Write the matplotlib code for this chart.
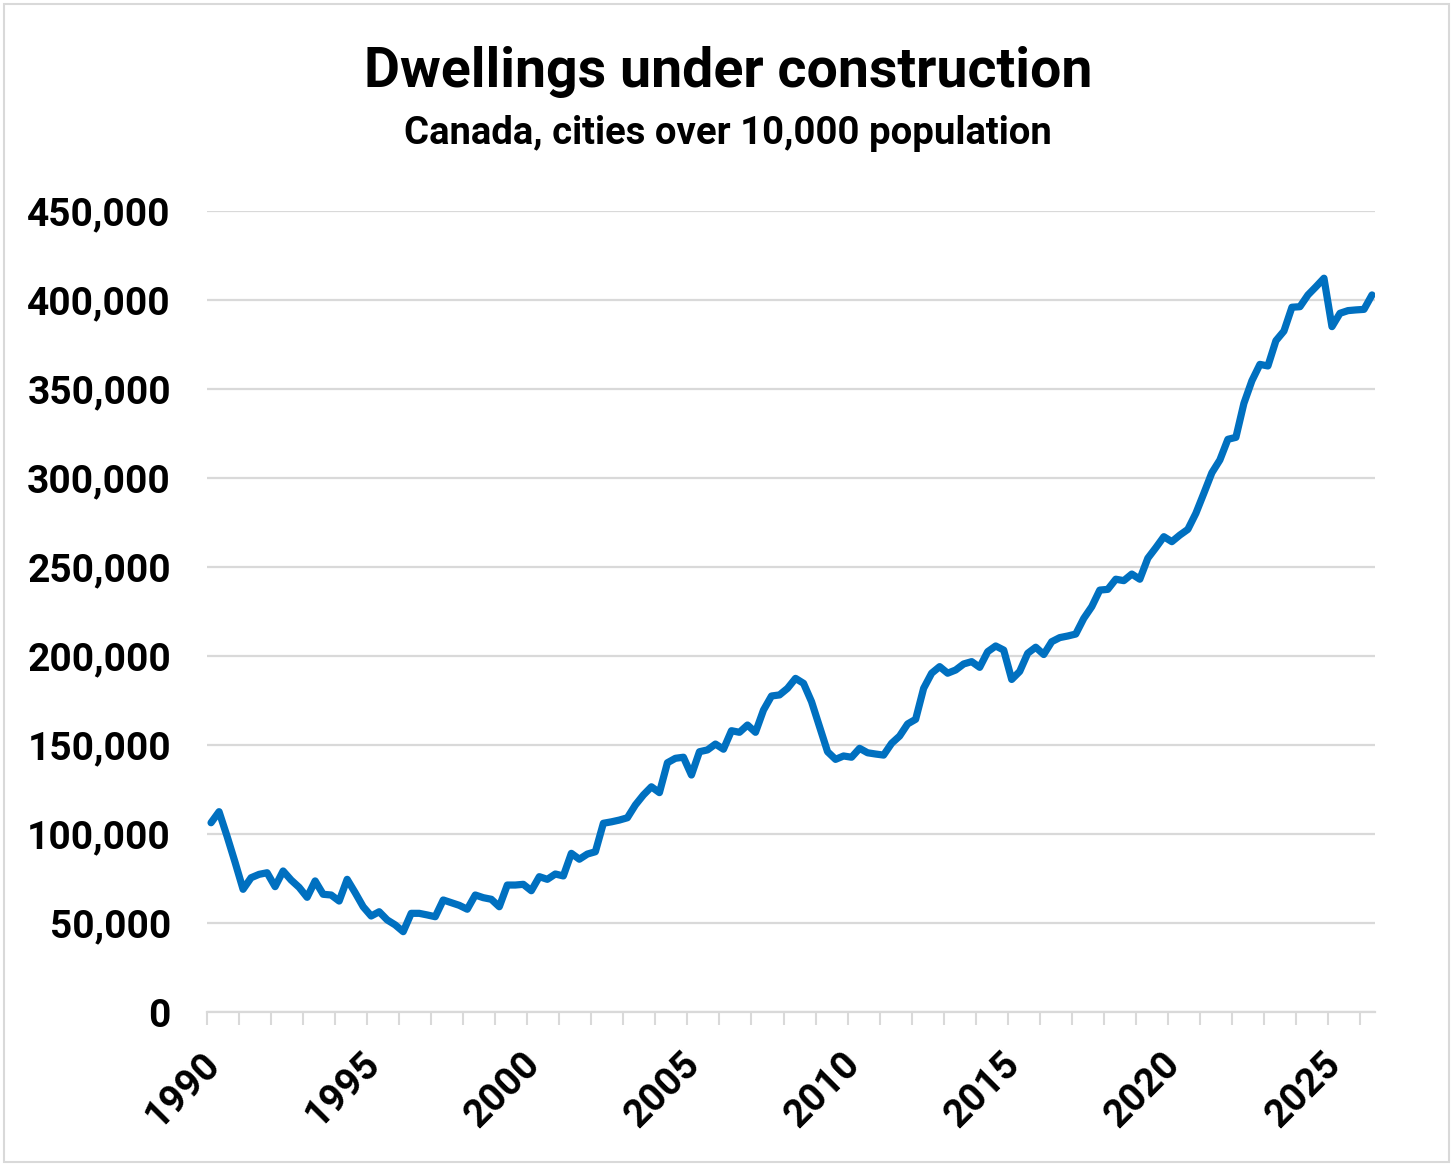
import matplotlib
matplotlib.use("Agg")
import matplotlib.pyplot as plt
from matplotlib.patches import Rectangle
from matplotlib.transforms import ScaledTranslation
from matplotlib.ticker import FuncFormatter

# ---- data (quarterly, 1990 Q1 onward) ----
start_year = 1990
dwellings = [
    106500, 112700, 98900, 84300, 69100, 75600, 77500, 78400, 70600, 79400,
    74300, 70200, 64600, 73800, 66300, 65900, 62500, 74700, 67200, 59300,
    54100, 56500, 51900, 49100, 45300, 55600, 55600, 54700, 53700, 63100,
    61600, 60100, 57900, 65900, 64400, 63500, 59300, 71500, 71500, 71900,
    68300, 76200, 74700, 77700, 76600, 89300, 86000, 88900, 90200, 106200,
    107000, 108000, 109300, 116500, 122100, 126700, 123400, 140200, 142700, 143300,
    133300, 146400, 147400, 150700, 147800, 158200, 157300, 161400, 157300, 169800,
    177700, 178300, 182000, 187600, 184800, 174500, 160500, 146400, 142100, 144000,
    143300, 148300, 145800, 145100, 144500, 151100, 155200, 162000, 164600, 182000,
    190500, 194200, 190500, 192300, 195700, 197000, 193800, 202600, 205800, 203500,
    187000, 191500, 201700, 205100, 201000, 208200, 210500, 211400, 212500, 221300,
    227900, 237200, 237600, 243300, 242500, 246200, 243300, 255100, 261000, 267200,
    264400, 268100, 271300, 280300, 291600, 303100, 310300, 321900, 323000, 342100,
    354800, 364000, 363100, 377300, 382700, 396100, 396400, 403000, 407600, 412400,
    385200, 392700, 394200, 394600, 394900, 403000,
]
year_labels = ["1990", "1995", "2000", "2005", "2010", "2015", "2020", "2025"]
y_ticks = [0, 50000, 100000, 150000, 200000, 250000, 300000, 350000, 400000, 450000]

title = "Dwellings under construction"
subtitle = "Canada, cities over 10,000 population"

# quarter mid-points on a year axis
x = [start_year + 0.125 + 0.25 * i for i in range(len(dwellings))]

plt.rcParams['font.family'] = ['Roboto', 'DejaVu Sans']
plt.rcParams['font.weight'] = 'bold'

fig = plt.figure(figsize=(14.56, 11.68), dpi=100)
ax = fig.add_axes([0.1422, 0.1333, 0.8022, 0.6858])

grid_c = "#d9d9d9"
ax.plot(x, dwellings, color="#0070C0", lw=5.2, solid_joinstyle="round",
        solid_capstyle="round", zorder=3)

ax.set_ylim(0, 450000)
ax.set_xlim(1990, 2026.47)
ax.set_yticks(y_ticks)
ax.yaxis.set_major_formatter(FuncFormatter(lambda v, p: f"{int(v):,}"))
ax.grid(axis="y", color=grid_c, lw=1.6, zorder=0)
ax.set_axisbelow(True)

for s in ["top", "right", "left"]:
    ax.spines[s].set_visible(False)
ax.spines["bottom"].set_color(grid_c)
ax.spines["bottom"].set_linewidth(1.6)

ax.tick_params(axis="y", length=0, pad=26, labelsize=28)
ax.set_xticks(list(range(1990, 2027)))
ax.set_xticklabels([str(y) if str(y) in year_labels else "" for y in range(1990, 2027)])
ax.tick_params(axis="x", length=9.5, width=1.5, color=grid_c, pad=14, labelsize=28)
off = ScaledTranslation(-6 / 100, 0, fig.dpi_scale_trans)
for lab in ax.get_xticklabels():
    lab.set_rotation(45)
    lab.set_ha("right")
    lab.set_va("top")
    lab.set_rotation_mode("anchor")
    lab.set_transform(lab.get_transform() + off)
for lab in ax.get_xticklabels() + ax.get_yticklabels():
    lab.set_fontweight("bold")

fig.text(0.5, 1 - 72 / 1168, title, ha="center", va="center",
         fontsize=40, fontweight="bold")
fig.text(0.5, 1 - 133 / 1168, subtitle, ha="center", va="center",
         fontsize=27.5, fontweight="bold")

fig.patches.append(Rectangle((4 / 1456, 6 / 1168), 1445 / 1456, 1158 / 1168,
                             transform=fig.transFigure, fill=False,
                             edgecolor=grid_c, lw=1.5))

fig.savefig("out.png", dpi=100, facecolor="white")
